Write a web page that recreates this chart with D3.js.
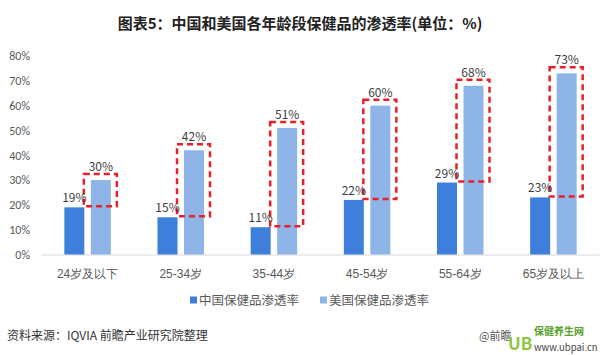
<!DOCTYPE html>
<html>
<head>
<meta charset="utf-8">
<script src="https://cdn.jsdelivr.net/npm/d3@7"></script>
<style>
  body { margin: 0; background: #fff; }
  svg { display: block; font-family: "Microsoft YaHei", "Noto Sans CJK SC", sans-serif; }
</style>
</head>
<body>
<div id="chart"></div>
<script>
var categories = ["24岁及以下", "25-34岁", "35-44岁", "45-54岁", "55-64岁", "65岁及以上"];
var chinaVals = [19, 15, 11, 22, 29, 23];
var usVals = [30, 42, 51, 60, 68, 73];
var seriesNames = ["中国保健品渗透率", "美国保健品渗透率"];
var yTicks = [0, 10, 20, 30, 40, 50, 60, 70, 80];

var W = 600, H = 355;
var svg = d3.select("#chart").append("svg").attr("width", W).attr("height", H);

var x = d3.scaleBand().domain(categories).range([41, 600]);
var y = d3.scaleLinear().domain([0, 80]).range([254.5, 56]);
var barW = 20, gap = 6.5;

// title
svg.append("text")
  .attr("x", 300).attr("y", 29)
  .attr("text-anchor", "middle")
  .style("font-size", "15px").style("font-weight", "bold").style("fill", "#222")
  .text("图表5：中国和美国各年龄段保健品的渗透率(单位：%)");

// y axis
var yAxis = svg.append("g")
  .attr("transform", "translate(30,0)")
  .call(d3.axisLeft(y).tickValues(yTicks).tickSize(0).tickPadding(0).tickFormat(function(d){ return d + "%"; }));
yAxis.select(".domain").remove();
yAxis.selectAll("text").style("font-size", "12px").style("fill", "#595959")
  .style("font-family", "Calibri, 'Liberation Sans', sans-serif");

// x axis
var xAxis = svg.append("g")
  .attr("transform", "translate(0," + y(0) + ")")
  .call(d3.axisBottom(x).tickSize(0).tickPadding(15));
xAxis.select(".domain").attr("stroke", "#d9d9d9");
xAxis.selectAll("text").style("font-size", "12px").style("fill", "#595959");

var data = categories.map(function(c, i){ return {cat: c, cn: chinaVals[i], us: usVals[i]}; });

function cnX(d){ return x(d.cat) + x.bandwidth()/2 - gap/2 - barW; }
function usX(d){ return x(d.cat) + x.bandwidth()/2 + gap/2; }

svg.selectAll(".cnbar").data(data).enter().append("rect")
  .attr("class", "cnbar")
  .attr("x", cnX).attr("width", barW)
  .attr("y", function(d){ return y(d.cn); })
  .attr("height", function(d){ return y(0) - y(d.cn); })
  .attr("fill", "#3D7FDB");

svg.selectAll(".usbar").data(data).enter().append("rect")
  .attr("class", "usbar")
  .attr("x", usX).attr("width", barW)
  .attr("y", function(d){ return y(d.us); })
  .attr("height", function(d){ return y(0) - y(d.us); })
  .attr("fill", "#8FB5E8");

// red dashed boxes
svg.selectAll(".hl").data(data).enter().append("rect")
  .attr("class", "hl")
  .attr("x", function(d){ return usX(d) - 7; })
  .attr("width", barW + 13)
  .attr("y", function(d){ return y(d.us) - 6; })
  .attr("height", function(d){ return y(d.cn) - y(d.us) + 5; })
  .attr("fill", "none")
  .attr("stroke", "#E8202A")
  .attr("stroke-width", 2.5)
  .attr("stroke-dasharray", "6,4");

// value labels
svg.selectAll(".cnlbl").data(data).enter().append("text")
  .attr("x", function(d){ return cnX(d) + barW/2; })
  .attr("y", function(d){ return y(d.cn) - 5; })
  .attr("text-anchor", "middle")
  .style("font-size", "12px").style("fill", "#404040")
  .text(function(d){ return d.cn + "%"; });

svg.selectAll(".uslbl").data(data).enter().append("text")
  .attr("x", function(d){ return usX(d) + barW/2; })
  .attr("y", function(d){ return y(d.us) - 9; })
  .attr("text-anchor", "middle")
  .style("font-size", "12px").style("fill", "#404040")
  .text(function(d){ return d.us + "%"; });

// legend
var legColors = ["#3D7FDB", "#8FB5E8"];
var legX = [190, 320];
seriesNames.forEach(function(n, i){
  svg.append("rect").attr("x", legX[i]).attr("y", 296.5).attr("width", 7).attr("height", 7).attr("fill", legColors[i]);
  svg.append("text").attr("x", legX[i] + 9).attr("y", 304.5)
    .style("font-size", "12.5px").style("fill", "#595959").text(n);
});

// source
svg.append("text").attr("x", 7).attr("y", 339.5)
  .style("font-size", "12px").style("fill", "#333").text("资料来源：IQVIA 前瞻产业研究院整理");

// logo
svg.append("text").attr("x", 479).attr("y", 340).style("font-size", "11px").style("fill", "#555").text("@前瞻");
svg.append("text").attr("x", 508).attr("y", 350).style("font-size", "17px").style("font-weight", "bold")
  .style("fill", "#8CC63F").text("UB");
svg.append("text").attr("x", 534).attr("y", 335).style("font-size", "10px").style("font-weight", "bold")
  .style("fill", "#5AA02C").text("保健养生网");
svg.append("text").attr("x", 534).attr("y", 351).style("font-size", "9.5px").style("fill", "#444").text("www.ubpai.cn");
</script>
</body>
</html>
